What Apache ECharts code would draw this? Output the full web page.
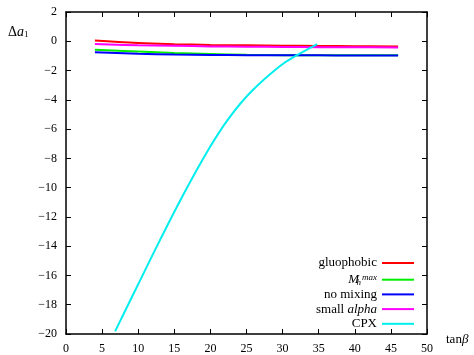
<!DOCTYPE html>
<html><head><meta charset="utf-8">
<script src="https://cdn.jsdelivr.net/npm/echarts@6/dist/echarts.min.js"></script>
<style>html,body{margin:0;padding:0;background:#fff}#c{width:474px;height:355px}</style>
</head><body><div id="c"></div>
<script>
const tanb = [4, 10, 15, 20, 25, 30, 35, 40, 46];
const gluophobic = [0.05, -0.12, -0.2, -0.25, -0.28, -0.3, -0.32, -0.34, -0.35];
const mhmax = [-0.58, -0.7, -0.8, -0.87, -0.92, -0.95, -0.96, -0.96, -0.96];
const nomixing = [-0.75, -0.85, -0.9, -0.93, -0.95, -0.96, -0.96, -0.97, -0.97];
const smallalpha = [-0.19, -0.27, -0.31, -0.35, -0.37, -0.39, -0.4, -0.41, -0.42];
const cpxTanb = [6.8, 10.0, 13.0, 16.5, 19.9, 22.5, 25.5, 29.6, 32.0, 34.8];
const cpx = [-19.82, -16.6, -13.6, -10.25, -7.26, -5.3, -3.52, -1.71, -0.95, -0.19];
const xTicks = [0, 5, 10, 15, 20, 25, 30, 35, 40, 45, 50];
const yTicks = [-20, -18, -16, -14, -12, -10, -8, -6, -4, -2, 0, 2];

const FONT = 'Liberation Serif';
const pair = (xs, ys) => xs.map((x, i) => [x, ys[i]]);
const fmtY = v => (v < 0 ? '\u2212' + Math.abs(v) : String(v));

const chart = echarts.init(document.getElementById('c'), null, {renderer: 'canvas'});
const axisCommon = {
  axisLine: {show: true, onZero: false, lineStyle: {color: '#000', width: 1.5}},
  axisTick: {show: true, inside: true, length: 5, lineStyle: {color: '#000', width: 1}},
  splitLine: {show: false}
};
const mk = (name, data, color) => ({
  name, type: 'line', data, showSymbol: false, symbol: 'none', smooth: 0.4,
  lineStyle: {color, width: 2}, itemStyle: {color}, xAxisIndex: 0, yAxisIndex: 0, z: 3
});
chart.setOption({
  animation: false,
  grid: {left: 66, right: 47, top: 12, bottom: 19, containLabel: false},
  xAxis: [
    Object.assign({type: 'value', min: 0, max: 50, interval: 5, position: 'bottom',
      axisLabel: {fontFamily: FONT, fontSize: 12, color: '#000', margin: 9}}, axisCommon),
    Object.assign({type: 'value', min: 0, max: 50, interval: 5, position: 'top',
      axisLabel: {show: false}}, axisCommon)
  ],
  yAxis: [
    Object.assign({type: 'value', min: -20, max: 2, interval: 2, position: 'left',
      axisLabel: {fontFamily: FONT, fontSize: 12, color: '#000', margin: 9, formatter: fmtY}}, axisCommon),
    Object.assign({type: 'value', min: -20, max: 2, interval: 2, position: 'right',
      axisLabel: {show: false}}, axisCommon)
  ],
  legend: {
    orient: 'vertical', right: 60, top: 256, align: 'right', itemGap: 0.7, padding: 0,
    itemWidth: 32, itemHeight: 2, icon: 'rect',
    data: ['gluophobic', 'Mhmax', 'no mixing', 'small alpha', 'CPX'],
    formatter: function (n) {
      if (n === 'Mhmax') return '{i|M}{sub|h}{sup|max}';
      if (n === 'small alpha') return '{r|small }{i|alpha}';
      return '{r|' + n + '}';
    },
    textStyle: {
      fontFamily: FONT, fontSize: 13, color: '#000', lineHeight: 14,
      rich: {
        r: {fontFamily: FONT, fontSize: 13, color: '#000', lineHeight: 14},
        i: {fontFamily: FONT, fontSize: 13, fontStyle: 'italic', color: '#000', lineHeight: 14},
        sub: {fontFamily: FONT, fontSize: 9, fontStyle: 'italic', color: '#000', width: 0, lineHeight: 14, verticalAlign: 'bottom', padding: [7, 0, 0, 2]},
        sup: {fontFamily: FONT, fontSize: 9, fontStyle: 'italic', color: '#000', lineHeight: 14, verticalAlign: 'top', padding: [0, 0, 5, 1]}
      }
    }
  },
  graphic: [
    {type: 'text', left: 8, top: 25, style: {
      text: '{r|\u0394}{i|a}{s|1}',
      rich: {
        r: {fontFamily: FONT, fontSize: 14, fill: '#000'},
        i: {fontFamily: FONT, fontSize: 14, fontStyle: 'italic', fill: '#000'},
        s: {fontFamily: FONT, fontSize: 9, fill: '#000', verticalAlign: 'bottom', padding: [6, 0, 0, 0]}
      }}},
    {type: 'text', left: 446, top: 333, style: {
      text: '{r|tan}{i|\u03b2}',
      rich: {
        r: {fontFamily: FONT, fontSize: 13, fill: '#000'},
        i: {fontFamily: FONT, fontSize: 13, fontStyle: 'italic', fill: '#000'}
      }}}
  ],
  series: [
    mk('gluophobic', pair(tanb, gluophobic), '#ff0000'),
    mk('Mhmax', pair(tanb, mhmax), '#00ee00'),
    mk('no mixing', pair(tanb, nomixing), '#0000ff'),
    mk('small alpha', pair(tanb, smallalpha), '#ff00ff'),
    mk('CPX', pair(cpxTanb, cpx), '#00eeee')
  ]
});
</script></body></html>
